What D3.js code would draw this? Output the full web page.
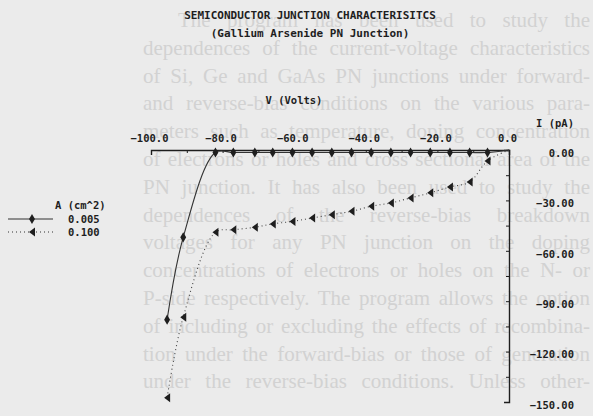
<!DOCTYPE html>
<html>
<head>
  <meta charset="utf-8">
  <script src="https://d3js.org/d3.v7.min.js"></script>
  <style>
    body { margin: 0; background: #ebebeb; }
    svg { display: block; }
  </style>
</head>
<body>
<script>
// reverse-bias I-V data
var voltage  = [0, -6, -11, -16.5, -22, -27.5, -33, -38.5, -44, -49.5, -55, -60.5, -66, -71, -77, -82, -91, -95.5];
var iSmall   = [0, -1.5, -1.5, -1.5, -1.5, -1.5, -1.5, -1.5, -1.5, -1.5, -1.5, -1.5, -1.5, -1.5, -1.5, -1.5, -52, -101];   // A = 0.005
var iLarge   = [0, -6.5, -19, -22, -25.5, -28.5, -31.5, -33.5, -36.5, -38.5, -40.5, -42.5, -44, -46, -47.5, -49, -99.5, -147.5]; // A = 0.100
var xTicks   = [-100, -80, -60, -40, -20, 0];
var yTicks   = [0, -30, -60, -90, -120, -150];
var areas    = ["0.005", "0.100"];

// faint page text showing through the scan
var pageText = [
  "The program has been used to study the",
  "dependences of the current-voltage characteristics",
  "of Si, Ge and GaAs PN junctions under forward-",
  "and reverse-bias conditions on the various para-",
  "meters such as temperature, doping concentration",
  "of electrons or holes and cross sectional area of the",
  "PN junction. It has also been used to study the",
  "dependences of the reverse-bias breakdown",
  "voltages for any PN junction on the doping",
  "concentrations of electrons or holes on the N- or",
  "P-side respectively. The program allows the option",
  "of including or excluding the effects of recombina-",
  "tion under the forward-bias or those of generation",
  "under the reverse-bias conditions. Unless other-"
];

var W = 593, H = 416;
var svg = d3.select("body").append("svg").attr("width", W).attr("height", H);

// justified paragraph: spread words so each line ends near the right edge
svg.append("g").selectAll("text")
  .data(pageText)
  .enter().append("text")
    .attr("x", function (d, i) { return i === 0 ? 178 : 143; })
    .attr("y", function (d, i) { return 27 + i * 27.8; })
    .style("font-family", "Liberation Serif")
    .style("font-size", "21px")
    .style("fill", "#d2d2d2")
    .text(function (d) { return d; })
    .each(function (d, i) {
      var start = i === 0 ? 178 : 143;
      var gaps = d.split(" ").length - 1;
      var extra = (590 - start) - this.getComputedTextLength();
      if (gaps > 0 && extra > 0) d3.select(this).style("word-spacing", (extra / gaps) + "px");
    });

var x = d3.scaleLinear().domain([-100, 0]).range([151, 509]);
var y = d3.scaleLinear().domain([0, -150]).range([150, 402]);

var mono = "DejaVu Sans Mono";
var ink = "#1e1e1e";

// x axis on top, ticks pointing down
var xAxis = svg.append("g")
  .attr("transform", "translate(0,150)")
  .call(d3.axisTop(x)
    .tickValues(d3.range(-100, 1, 10))
    .tickSizeInner(-3).tickSizeOuter(-5)
    .tickPadding(8)
    .tickFormat(function (d) { return xTicks.indexOf(d) >= 0 ? d3.format(".1f")(d) : ""; }));
xAxis.selectAll("text").attr("dx", -2);

// y axis on the right, ticks pointing left
var yAxis = svg.append("g")
  .attr("transform", "translate(509,0)")
  .call(d3.axisRight(y)
    .tickValues(d3.range(0, -151, -15))
    .tickSizeInner(-3).tickSizeOuter(-5)
    .tickFormat(function (d) { return yTicks.indexOf(d) >= 0 ? d3.format(".2f")(d) : ""; }));
yAxis.selectAll("text").attr("text-anchor", "end").attr("x", 65).attr("dy", "0.6em");

svg.selectAll(".domain").attr("stroke", ink).attr("stroke-width", 1.4);
svg.selectAll(".tick line").attr("stroke", ink);
svg.selectAll(".tick text")
  .style("font-family", mono).style("font-size", "10.5px")
  .style("font-weight", "bold").attr("fill", ink);

// titles
svg.append("text").attr("x", 310).attr("y", 19).attr("text-anchor", "middle")
  .style("font-family", mono).style("font-size", "11px").style("font-weight", "bold").attr("fill", ink)
  .text("SEMICONDUCTOR JUNCTION CHARACTERISITCS");
svg.append("text").attr("x", 310).attr("y", 37).attr("text-anchor", "middle")
  .style("font-family", mono).style("font-size", "11px").style("font-weight", "bold").attr("fill", ink)
  .text("(Gallium Arsenide PN Junction)");
svg.append("text").attr("x", 294).attr("y", 104).attr("text-anchor", "middle")
  .style("font-family", mono).style("font-size", "10.5px").style("font-weight", "bold").attr("fill", ink)
  .text("V (Volts)");
svg.append("text").attr("x", 574).attr("y", 127).attr("text-anchor", "end")
  .style("font-family", mono).style("font-size", "10.5px").style("font-weight", "bold").attr("fill", ink)
  .text("I (pA)");

// markers
var diamond = d3.symbol().type(d3.symbolDiamond).size(30);
function triangle(g) {
  g.append("path").attr("d", "M-3,0L3,-4.5L3,4.5Z").attr("fill", ink);
}

var ptsSmall = voltage.map(function (v, i) { return [v, iSmall[i]]; });
var ptsLarge = voltage.map(function (v, i) { return [v, iLarge[i]]; });

var line = d3.line()
  .x(function (d) { return x(d[0]); })
  .y(function (d) { return y(d[1]); })
  .curve(d3.curveCatmullRom);

svg.append("path").datum(ptsSmall).attr("d", line)
  .attr("fill", "none").attr("stroke", "#333").attr("stroke-width", 1.1);
svg.append("path").datum(ptsLarge).attr("d", line)
  .attr("fill", "none").attr("stroke", "#444").attr("stroke-width", 1.1)
  .attr("stroke-dasharray", "1,3");

svg.selectAll(".mk1").data(ptsSmall.slice(1)).enter().append("path")
  .attr("transform", function (d) { return "translate(" + x(d[0]) + "," + y(d[1]) + ")"; })
  .attr("d", diamond).attr("fill", ink);
svg.selectAll(".mk2").data(ptsLarge.slice(1)).enter().append("g")
  .attr("transform", function (d) { return "translate(" + x(d[0]) + "," + y(d[1]) + ")"; })
  .call(triangle);

// legend
var lg = svg.append("g").style("font-family", mono).style("font-size", "10.5px")
  .style("font-weight", "bold").attr("fill", ink);
lg.append("text").attr("x", 55).attr("y", 209).text("A (cm^2)");
areas.forEach(function (a, i) {
  var ly = 219 + i * 13;
  lg.append("line").attr("x1", 8).attr("x2", 53).attr("y1", ly).attr("y2", ly)
    .attr("stroke", "#333").attr("stroke-width", 1.1)
    .attr("stroke-dasharray", i === 0 ? null : "1,3");
  if (i === 0) {
    lg.append("path").attr("transform", "translate(32," + ly + ")").attr("d", diamond).attr("fill", ink);
  } else {
    lg.append("g").attr("transform", "translate(32," + ly + ")").call(triangle);
  }
  lg.append("text").attr("x", 68).attr("y", ly + 4).text(a);
});
</script>
</body>
</html>
